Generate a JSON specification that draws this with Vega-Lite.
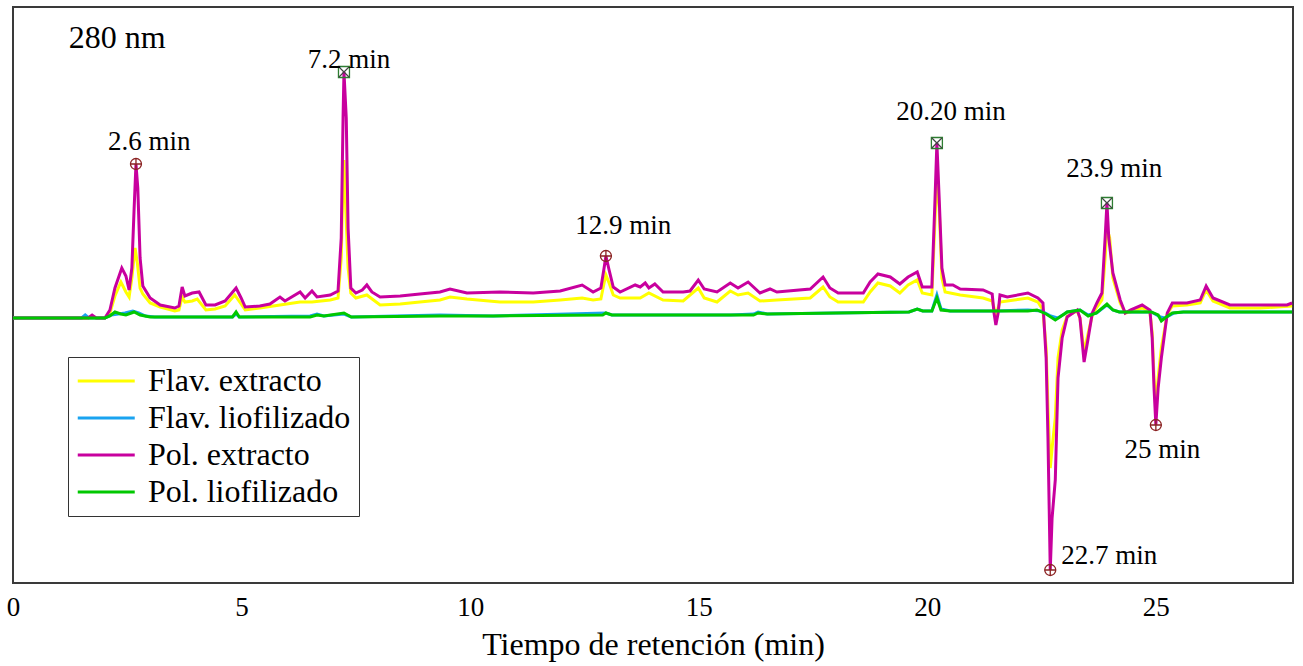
{
  "$schema": "https://vega.github.io/schema/vega-lite/v6.json",
  "width": 1280,
  "height": 576,
  "autosize": {"type": "none"},
  "padding": {"left": 13, "top": 7, "right": 10, "bottom": 83},
  "background": "white",
  "config": {
    "view": {"stroke": "#3a3a3a", "strokeWidth": 2},
    "font": "Liberation Serif"
  },
  "datasets": {
    "traces": [
      {"s":"Flav. extracto","t":0,"v":0},{"s":"Flav. extracto","t":2.01,"v":0},{"s":"Flav. extracto","t":2.12,"v":5},{"s":"Flav. extracto","t":2.23,"v":22},{"s":"Flav. extracto","t":2.36,"v":36},{"s":"Flav. extracto","t":2.47,"v":26},{"s":"Flav. extracto","t":2.54,"v":21},{"s":"Flav. extracto","t":2.6,"v":40},{"s":"Flav. extracto","t":2.67,"v":70},{"s":"Flav. extracto","t":2.72,"v":55},{"s":"Flav. extracto","t":2.78,"v":30},{"s":"Flav. extracto","t":2.84,"v":24},{"s":"Flav. extracto","t":3.0,"v":15},{"s":"Flav. extracto","t":3.22,"v":11},{"s":"Flav. extracto","t":3.54,"v":7},{"s":"Flav. extracto","t":3.63,"v":8},{"s":"Flav. extracto","t":3.7,"v":21},{"s":"Flav. extracto","t":3.76,"v":16},{"s":"Flav. extracto","t":3.92,"v":17},{"s":"Flav. extracto","t":4.03,"v":19},{"s":"Flav. extracto","t":4.22,"v":8},{"s":"Flav. extracto","t":4.42,"v":9},{"s":"Flav. extracto","t":4.64,"v":12},{"s":"Flav. extracto","t":4.85,"v":23},{"s":"Flav. extracto","t":4.99,"v":14},{"s":"Flav. extracto","t":5.08,"v":8},{"s":"Flav. extracto","t":5.4,"v":10},{"s":"Flav. extracto","t":5.84,"v":13},{"s":"Flav. extracto","t":6.28,"v":16},{"s":"Flav. extracto","t":6.54,"v":16},{"s":"Flav. extracto","t":6.94,"v":18},{"s":"Flav. extracto","t":7.11,"v":20},{"s":"Flav. extracto","t":7.18,"v":60},{"s":"Flav. extracto","t":7.22,"v":140},{"s":"Flav. extracto","t":7.24,"v":158},{"s":"Flav. extracto","t":7.27,"v":120},{"s":"Flav. extracto","t":7.33,"v":50},{"s":"Flav. extracto","t":7.39,"v":25},{"s":"Flav. extracto","t":7.5,"v":20},{"s":"Flav. extracto","t":7.74,"v":23},{"s":"Flav. extracto","t":8.03,"v":13},{"s":"Flav. extracto","t":8.47,"v":14},{"s":"Flav. extracto","t":8.9,"v":16},{"s":"Flav. extracto","t":9.34,"v":18},{"s":"Flav. extracto","t":9.56,"v":21},{"s":"Flav. extracto","t":9.93,"v":19},{"s":"Flav. extracto","t":10.65,"v":16},{"s":"Flav. extracto","t":11.38,"v":16},{"s":"Flav. extracto","t":11.97,"v":18},{"s":"Flav. extracto","t":12.45,"v":20},{"s":"Flav. extracto","t":12.69,"v":18},{"s":"Flav. extracto","t":12.86,"v":19},{"s":"Flav. extracto","t":12.93,"v":35},{"s":"Flav. extracto","t":12.97,"v":43},{"s":"Flav. extracto","t":13.04,"v":35},{"s":"Flav. extracto","t":13.13,"v":23},{"s":"Flav. extracto","t":13.28,"v":20},{"s":"Flav. extracto","t":13.72,"v":20},{"s":"Flav. extracto","t":13.91,"v":25},{"s":"Flav. extracto","t":14.22,"v":18},{"s":"Flav. extracto","t":14.66,"v":17},{"s":"Flav. extracto","t":14.99,"v":30},{"s":"Flav. extracto","t":15.12,"v":20},{"s":"Flav. extracto","t":15.4,"v":16},{"s":"Flav. extracto","t":15.69,"v":27},{"s":"Flav. extracto","t":15.86,"v":23},{"s":"Flav. extracto","t":16.08,"v":25},{"s":"Flav. extracto","t":16.34,"v":17},{"s":"Flav. extracto","t":16.71,"v":18},{"s":"Flav. extracto","t":17.44,"v":20},{"s":"Flav. extracto","t":17.72,"v":31},{"s":"Flav. extracto","t":17.87,"v":21},{"s":"Flav. extracto","t":18.05,"v":16},{"s":"Flav. extracto","t":18.6,"v":16},{"s":"Flav. extracto","t":18.75,"v":26},{"s":"Flav. extracto","t":18.92,"v":35},{"s":"Flav. extracto","t":19.19,"v":32},{"s":"Flav. extracto","t":19.4,"v":25},{"s":"Flav. extracto","t":19.58,"v":33},{"s":"Flav. extracto","t":19.78,"v":38},{"s":"Flav. extracto","t":19.89,"v":25},{"s":"Flav. extracto","t":20.1,"v":23},{"s":"Flav. extracto","t":20.17,"v":100},{"s":"Flav. extracto","t":20.21,"v":140},{"s":"Flav. extracto","t":20.26,"v":110},{"s":"Flav. extracto","t":20.32,"v":40},{"s":"Flav. extracto","t":20.39,"v":26},{"s":"Flav. extracto","t":20.72,"v":23},{"s":"Flav. extracto","t":21.22,"v":20},{"s":"Flav. extracto","t":21.42,"v":17},{"s":"Flav. extracto","t":21.5,"v":3},{"s":"Flav. extracto","t":21.59,"v":16},{"s":"Flav. extracto","t":21.75,"v":17},{"s":"Flav. extracto","t":22.2,"v":20},{"s":"Flav. extracto","t":22.42,"v":16},{"s":"Flav. extracto","t":22.53,"v":8},{"s":"Flav. extracto","t":22.6,"v":-30},{"s":"Flav. extracto","t":22.64,"v":-90},{"s":"Flav. extracto","t":22.69,"v":-150},{"s":"Flav. extracto","t":22.73,"v":-130},{"s":"Flav. extracto","t":22.8,"v":-100},{"s":"Flav. extracto","t":22.86,"v":-40},{"s":"Flav. extracto","t":22.95,"v":-12},{"s":"Flav. extracto","t":23.06,"v":2},{"s":"Flav. extracto","t":23.28,"v":7},{"s":"Flav. extracto","t":23.34,"v":0},{"s":"Flav. extracto","t":23.43,"v":-34},{"s":"Flav. extracto","t":23.52,"v":-15},{"s":"Flav. extracto","t":23.61,"v":3},{"s":"Flav. extracto","t":23.71,"v":11},{"s":"Flav. extracto","t":23.82,"v":18},{"s":"Flav. extracto","t":23.89,"v":60},{"s":"Flav. extracto","t":23.93,"v":90},{"s":"Flav. extracto","t":23.99,"v":80},{"s":"Flav. extracto","t":24.06,"v":40},{"s":"Flav. extracto","t":24.22,"v":15},{"s":"Flav. extracto","t":24.33,"v":5},{"s":"Flav. extracto","t":24.44,"v":6},{"s":"Flav. extracto","t":24.7,"v":10},{"s":"Flav. extracto","t":24.87,"v":6},{"s":"Flav. extracto","t":24.92,"v":-15},{"s":"Flav. extracto","t":24.96,"v":-60},{"s":"Flav. extracto","t":25.0,"v":-88},{"s":"Flav. extracto","t":25.05,"v":-60},{"s":"Flav. extracto","t":25.12,"v":-30},{"s":"Flav. extracto","t":25.25,"v":4},{"s":"Flav. extracto","t":25.36,"v":12},{"s":"Flav. extracto","t":25.68,"v":13},{"s":"Flav. extracto","t":25.97,"v":15},{"s":"Flav. extracto","t":26.1,"v":28},{"s":"Flav. extracto","t":26.25,"v":17},{"s":"Flav. extracto","t":26.62,"v":10},{"s":"Flav. extracto","t":27.28,"v":10},{"s":"Flav. extracto","t":27.98,"v":12},

      {"s":"Flav. liofilizado","t":0,"v":0},{"s":"Flav. liofilizado","t":1.5,"v":0},{"s":"Flav. liofilizado","t":1.58,"v":3},{"s":"Flav. liofilizado","t":1.66,"v":0},{"s":"Flav. liofilizado","t":2.01,"v":0},{"s":"Flav. liofilizado","t":2.15,"v":3},{"s":"Flav. liofilizado","t":2.3,"v":4},{"s":"Flav. liofilizado","t":2.45,"v":5},{"s":"Flav. liofilizado","t":2.62,"v":7},{"s":"Flav. liofilizado","t":2.75,"v":5},{"s":"Flav. liofilizado","t":2.9,"v":2},{"s":"Flav. liofilizado","t":3.1,"v":1},{"s":"Flav. liofilizado","t":4.8,"v":1},{"s":"Flav. liofilizado","t":4.88,"v":4},{"s":"Flav. liofilizado","t":4.95,"v":1},{"s":"Flav. liofilizado","t":6.5,"v":2},{"s":"Flav. liofilizado","t":6.65,"v":4},{"s":"Flav. liofilizado","t":6.8,"v":2},{"s":"Flav. liofilizado","t":7.24,"v":4},{"s":"Flav. liofilizado","t":7.4,"v":1},{"s":"Flav. liofilizado","t":9.34,"v":3},{"s":"Flav. liofilizado","t":10.5,"v":2},{"s":"Flav. liofilizado","t":12.97,"v":5},{"s":"Flav. liofilizado","t":13.1,"v":3},{"s":"Flav. liofilizado","t":15.7,"v":3},{"s":"Flav. liofilizado","t":16.2,"v":4},{"s":"Flav. liofilizado","t":16.3,"v":6},{"s":"Flav. liofilizado","t":16.5,"v":4},{"s":"Flav. liofilizado","t":18.0,"v":5},{"s":"Flav. liofilizado","t":19.6,"v":6},{"s":"Flav. liofilizado","t":19.78,"v":9},{"s":"Flav. liofilizado","t":19.9,"v":7},{"s":"Flav. liofilizado","t":20.1,"v":7},{"s":"Flav. liofilizado","t":20.21,"v":23},{"s":"Flav. liofilizado","t":20.3,"v":9},{"s":"Flav. liofilizado","t":20.5,"v":7},{"s":"Flav. liofilizado","t":21.5,"v":7},{"s":"Flav. liofilizado","t":22.2,"v":8},{"s":"Flav. liofilizado","t":22.5,"v":7},{"s":"Flav. liofilizado","t":22.7,"v":2},{"s":"Flav. liofilizado","t":22.85,"v":0},{"s":"Flav. liofilizado","t":23.0,"v":4},{"s":"Flav. liofilizado","t":23.06,"v":6},{"s":"Flav. liofilizado","t":23.34,"v":8},{"s":"Flav. liofilizado","t":23.52,"v":3},{"s":"Flav. liofilizado","t":23.7,"v":5},{"s":"Flav. liofilizado","t":23.93,"v":13},{"s":"Flav. liofilizado","t":24.06,"v":8},{"s":"Flav. liofilizado","t":24.2,"v":6},{"s":"Flav. liofilizado","t":24.9,"v":6},{"s":"Flav. liofilizado","t":25.1,"v":1},{"s":"Flav. liofilizado","t":25.2,"v":0},{"s":"Flav. liofilizado","t":25.4,"v":5},{"s":"Flav. liofilizado","t":25.6,"v":6},{"s":"Flav. liofilizado","t":27.98,"v":6},

      {"s":"Pol. extracto","t":0,"v":0},{"s":"Pol. extracto","t":1.64,"v":0},{"s":"Pol. extracto","t":1.73,"v":3},{"s":"Pol. extracto","t":1.82,"v":0},{"s":"Pol. extracto","t":2.01,"v":0},{"s":"Pol. extracto","t":2.12,"v":8},{"s":"Pol. extracto","t":2.23,"v":30},{"s":"Pol. extracto","t":2.38,"v":50},{"s":"Pol. extracto","t":2.47,"v":42},{"s":"Pol. extracto","t":2.54,"v":28},{"s":"Pol. extracto","t":2.6,"v":50},{"s":"Pol. extracto","t":2.65,"v":110},{"s":"Pol. extracto","t":2.69,"v":154},{"s":"Pol. extracto","t":2.73,"v":130},{"s":"Pol. extracto","t":2.78,"v":60},{"s":"Pol. extracto","t":2.84,"v":32},{"s":"Pol. extracto","t":3.0,"v":20},{"s":"Pol. extracto","t":3.22,"v":13},{"s":"Pol. extracto","t":3.54,"v":10},{"s":"Pol. extracto","t":3.63,"v":12},{"s":"Pol. extracto","t":3.7,"v":31},{"s":"Pol. extracto","t":3.76,"v":22},{"s":"Pol. extracto","t":3.92,"v":25},{"s":"Pol. extracto","t":4.07,"v":26},{"s":"Pol. extracto","t":4.22,"v":13},{"s":"Pol. extracto","t":4.42,"v":13},{"s":"Pol. extracto","t":4.64,"v":17},{"s":"Pol. extracto","t":4.88,"v":30},{"s":"Pol. extracto","t":4.99,"v":20},{"s":"Pol. extracto","t":5.08,"v":11},{"s":"Pol. extracto","t":5.4,"v":12},{"s":"Pol. extracto","t":5.62,"v":14},{"s":"Pol. extracto","t":5.84,"v":21},{"s":"Pol. extracto","t":5.95,"v":17},{"s":"Pol. extracto","t":6.28,"v":26},{"s":"Pol. extracto","t":6.39,"v":20},{"s":"Pol. extracto","t":6.54,"v":27},{"s":"Pol. extracto","t":6.65,"v":21},{"s":"Pol. extracto","t":6.94,"v":23},{"s":"Pol. extracto","t":7.11,"v":27},{"s":"Pol. extracto","t":7.18,"v":80},{"s":"Pol. extracto","t":7.22,"v":200},{"s":"Pol. extracto","t":7.24,"v":246},{"s":"Pol. extracto","t":7.29,"v":200},{"s":"Pol. extracto","t":7.33,"v":90},{"s":"Pol. extracto","t":7.39,"v":30},{"s":"Pol. extracto","t":7.5,"v":25},{"s":"Pol. extracto","t":7.64,"v":28},{"s":"Pol. extracto","t":7.74,"v":33},{"s":"Pol. extracto","t":7.85,"v":26},{"s":"Pol. extracto","t":8.03,"v":21},{"s":"Pol. extracto","t":8.47,"v":22},{"s":"Pol. extracto","t":8.9,"v":24},{"s":"Pol. extracto","t":9.34,"v":26},{"s":"Pol. extracto","t":9.56,"v":29},{"s":"Pol. extracto","t":9.93,"v":25},{"s":"Pol. extracto","t":10.65,"v":26},{"s":"Pol. extracto","t":11.38,"v":25},{"s":"Pol. extracto","t":11.97,"v":27},{"s":"Pol. extracto","t":12.45,"v":33},{"s":"Pol. extracto","t":12.69,"v":26},{"s":"Pol. extracto","t":12.86,"v":30},{"s":"Pol. extracto","t":12.93,"v":50},{"s":"Pol. extracto","t":12.97,"v":62},{"s":"Pol. extracto","t":13.04,"v":48},{"s":"Pol. extracto","t":13.13,"v":31},{"s":"Pol. extracto","t":13.28,"v":26},{"s":"Pol. extracto","t":13.61,"v":33},{"s":"Pol. extracto","t":13.72,"v":31},{"s":"Pol. extracto","t":13.83,"v":35},{"s":"Pol. extracto","t":13.91,"v":30},{"s":"Pol. extracto","t":14.04,"v":34},{"s":"Pol. extracto","t":14.22,"v":26},{"s":"Pol. extracto","t":14.66,"v":26},{"s":"Pol. extracto","t":14.81,"v":27},{"s":"Pol. extracto","t":14.99,"v":38},{"s":"Pol. extracto","t":15.12,"v":29},{"s":"Pol. extracto","t":15.4,"v":26},{"s":"Pol. extracto","t":15.69,"v":35},{"s":"Pol. extracto","t":15.86,"v":30},{"s":"Pol. extracto","t":16.08,"v":36},{"s":"Pol. extracto","t":16.34,"v":25},{"s":"Pol. extracto","t":16.56,"v":29},{"s":"Pol. extracto","t":16.71,"v":26},{"s":"Pol. extracto","t":17.44,"v":29},{"s":"Pol. extracto","t":17.72,"v":41},{"s":"Pol. extracto","t":17.87,"v":30},{"s":"Pol. extracto","t":18.05,"v":25},{"s":"Pol. extracto","t":18.6,"v":25},{"s":"Pol. extracto","t":18.75,"v":36},{"s":"Pol. extracto","t":18.92,"v":44},{"s":"Pol. extracto","t":19.19,"v":41},{"s":"Pol. extracto","t":19.4,"v":34},{"s":"Pol. extracto","t":19.58,"v":41},{"s":"Pol. extracto","t":19.78,"v":46},{"s":"Pol. extracto","t":19.89,"v":31},{"s":"Pol. extracto","t":20.1,"v":31},{"s":"Pol. extracto","t":20.17,"v":120},{"s":"Pol. extracto","t":20.21,"v":175},{"s":"Pol. extracto","t":20.26,"v":120},{"s":"Pol. extracto","t":20.32,"v":50},{"s":"Pol. extracto","t":20.39,"v":33},{"s":"Pol. extracto","t":20.56,"v":33},{"s":"Pol. extracto","t":20.72,"v":29},{"s":"Pol. extracto","t":21.22,"v":28},{"s":"Pol. extracto","t":21.42,"v":24},{"s":"Pol. extracto","t":21.46,"v":5},{"s":"Pol. extracto","t":21.5,"v":-7},{"s":"Pol. extracto","t":21.55,"v":5},{"s":"Pol. extracto","t":21.59,"v":23},{"s":"Pol. extracto","t":21.75,"v":21},{"s":"Pol. extracto","t":22.2,"v":25},{"s":"Pol. extracto","t":22.42,"v":20},{"s":"Pol. extracto","t":22.53,"v":15},{"s":"Pol. extracto","t":22.6,"v":-40},{"s":"Pol. extracto","t":22.64,"v":-120},{"s":"Pol. extracto","t":22.69,"v":-252},{"s":"Pol. extracto","t":22.73,"v":-200},{"s":"Pol. extracto","t":22.8,"v":-162},{"s":"Pol. extracto","t":22.86,"v":-60},{"s":"Pol. extracto","t":22.95,"v":-20},{"s":"Pol. extracto","t":23.06,"v":1},{"s":"Pol. extracto","t":23.28,"v":8},{"s":"Pol. extracto","t":23.34,"v":0},{"s":"Pol. extracto","t":23.43,"v":-44},{"s":"Pol. extracto","t":23.52,"v":-20},{"s":"Pol. extracto","t":23.61,"v":5},{"s":"Pol. extracto","t":23.71,"v":15},{"s":"Pol. extracto","t":23.82,"v":25},{"s":"Pol. extracto","t":23.89,"v":80},{"s":"Pol. extracto","t":23.93,"v":115},{"s":"Pol. extracto","t":23.97,"v":80},{"s":"Pol. extracto","t":24.06,"v":45},{"s":"Pol. extracto","t":24.22,"v":18},{"s":"Pol. extracto","t":24.33,"v":5},{"s":"Pol. extracto","t":24.44,"v":8},{"s":"Pol. extracto","t":24.7,"v":13},{"s":"Pol. extracto","t":24.87,"v":8},{"s":"Pol. extracto","t":24.92,"v":-20},{"s":"Pol. extracto","t":24.96,"v":-70},{"s":"Pol. extracto","t":25.0,"v":-107},{"s":"Pol. extracto","t":25.05,"v":-70},{"s":"Pol. extracto","t":25.12,"v":-40},{"s":"Pol. extracto","t":25.25,"v":5},{"s":"Pol. extracto","t":25.36,"v":15},{"s":"Pol. extracto","t":25.68,"v":15},{"s":"Pol. extracto","t":25.97,"v":18},{"s":"Pol. extracto","t":26.1,"v":32},{"s":"Pol. extracto","t":26.25,"v":20},{"s":"Pol. extracto","t":26.62,"v":13},{"s":"Pol. extracto","t":27.28,"v":13},{"s":"Pol. extracto","t":27.87,"v":13},{"s":"Pol. extracto","t":27.98,"v":15},

      {"s":"Pol. liofilizado","t":0,"v":0},{"s":"Pol. liofilizado","t":2.01,"v":0},{"s":"Pol. liofilizado","t":2.12,"v":2},{"s":"Pol. liofilizado","t":2.23,"v":6},{"s":"Pol. liofilizado","t":2.36,"v":4},{"s":"Pol. liofilizado","t":2.47,"v":3},{"s":"Pol. liofilizado","t":2.65,"v":6},{"s":"Pol. liofilizado","t":2.78,"v":3},{"s":"Pol. liofilizado","t":3.0,"v":1},{"s":"Pol. liofilizado","t":3.54,"v":1},{"s":"Pol. liofilizado","t":4.8,"v":1},{"s":"Pol. liofilizado","t":4.88,"v":6},{"s":"Pol. liofilizado","t":4.95,"v":1},{"s":"Pol. liofilizado","t":6.5,"v":1},{"s":"Pol. liofilizado","t":6.65,"v":3},{"s":"Pol. liofilizado","t":6.8,"v":2},{"s":"Pol. liofilizado","t":7.24,"v":5},{"s":"Pol. liofilizado","t":7.4,"v":1},{"s":"Pol. liofilizado","t":9.34,"v":2},{"s":"Pol. liofilizado","t":10.5,"v":2},{"s":"Pol. liofilizado","t":12.9,"v":3},{"s":"Pol. liofilizado","t":12.97,"v":5},{"s":"Pol. liofilizado","t":13.1,"v":3},{"s":"Pol. liofilizado","t":15.7,"v":3},{"s":"Pol. liofilizado","t":16.2,"v":3},{"s":"Pol. liofilizado","t":16.3,"v":5},{"s":"Pol. liofilizado","t":16.5,"v":4},{"s":"Pol. liofilizado","t":18.0,"v":5},{"s":"Pol. liofilizado","t":19.6,"v":6},{"s":"Pol. liofilizado","t":19.78,"v":9},{"s":"Pol. liofilizado","t":19.9,"v":7},{"s":"Pol. liofilizado","t":20.1,"v":7},{"s":"Pol. liofilizado","t":20.21,"v":20},{"s":"Pol. liofilizado","t":20.3,"v":8},{"s":"Pol. liofilizado","t":20.5,"v":7},{"s":"Pol. liofilizado","t":21.5,"v":7},{"s":"Pol. liofilizado","t":22.2,"v":7},{"s":"Pol. liofilizado","t":22.4,"v":8},{"s":"Pol. liofilizado","t":22.6,"v":4},{"s":"Pol. liofilizado","t":22.8,"v":-2},{"s":"Pol. liofilizado","t":22.9,"v":1},{"s":"Pol. liofilizado","t":23.06,"v":6},{"s":"Pol. liofilizado","t":23.34,"v":8},{"s":"Pol. liofilizado","t":23.52,"v":2},{"s":"Pol. liofilizado","t":23.7,"v":5},{"s":"Pol. liofilizado","t":23.93,"v":14},{"s":"Pol. liofilizado","t":24.06,"v":8},{"s":"Pol. liofilizado","t":24.2,"v":6},{"s":"Pol. liofilizado","t":24.9,"v":6},{"s":"Pol. liofilizado","t":25.05,"v":3},{"s":"Pol. liofilizado","t":25.12,"v":-3},{"s":"Pol. liofilizado","t":25.2,"v":0},{"s":"Pol. liofilizado","t":25.36,"v":5},{"s":"Pol. liofilizado","t":25.6,"v":6},{"s":"Pol. liofilizado","t":27.98,"v":6}
    ],
    "peaks": [
      {"t":2.69,"v":154,"kind":"c","label":"2.6 min","lt":2.98,"lv":176},
      {"t":7.24,"v":246,"kind":"s","label":"7.2 min","lt":7.35,"lv":258},
      {"t":12.97,"v":62,"kind":"c","label":"12.9 min","lt":13.35,"lv":92},
      {"t":20.21,"v":175,"kind":"s","label":"20.20 min","lt":20.52,"lv":206},
      {"t":22.69,"v":-252,"kind":"c","label":"22.7 min","lt":23.98,"lv":-238},
      {"t":23.93,"v":115,"kind":"s","label":"23.9 min","lt":24.09,"lv":149},
      {"t":25.0,"v":-107,"kind":"c","label":"25 min","lt":25.14,"lv":-132}
    ],
    "note": [{"t":2.28,"v":280,"label":"280 nm"}]
  },
  "layer": [
    {
      "data": {"name": "traces"},
      "mark": {"type": "line", "strokeWidth": 3, "clip": true, "interpolate": "linear"},
      "encoding": {
        "x": {
          "field": "t", "type": "quantitative",
          "scale": {"domain": [0, 28], "nice": false, "zero": false},
          "axis": {
            "values": [0, 5, 10, 15, 20, 25],
            "ticks": false, "grid": false, "domain": false,
            "labelFont": "Liberation Serif", "labelFontSize": 27, "labelColor": "#000",
            "labelPadding": 11, "labelFlush": false,
            "title": "Tiempo de retención (min)",
            "titleFont": "Liberation Serif", "titleFontSize": 32, "titleFontWeight": "normal",
            "titleColor": "#000", "titlePadding": 9
          }
        },
        "y": {
          "field": "v", "type": "quantitative",
          "scale": {"domain": [-265, 311], "nice": false, "zero": false},
          "axis": null
        },
        "color": {
          "field": "s", "type": "nominal",
          "scale": {
            "domain": ["Flav. extracto", "Flav. liofilizado", "Pol. extracto", "Pol. liofilizado"],
            "range": ["#FFFF00", "#1AA3F0", "#C8009E", "#00C800"]
          },
          "legend": {
            "title": null, "orient": "none", "legendX": 55, "legendY": 350,
            "strokeColor": "#333", "fillColor": "white", "padding": 8,
            "symbolType": "M-1,0L3,0", "symbolSize": 812, "symbolStrokeWidth": 3,
            "symbolFillColor": "transparent",
            "labelFont": "Liberation Serif", "labelFontSize": 32, "labelColor": "#000",
            "labelOffset": 40, "rowPadding": 5, "labelLimit": 400
          }
        }
      }
    },
    {
      "data": {"name": "peaks"},
      "transform": [{"filter": "datum.kind === 'c'"}],
      "mark": {"type": "point", "shape": "circle", "filled": false, "stroke": "#8B2323", "strokeWidth": 1.3, "size": 121, "opacity": 1},
      "encoding": {"x": {"field": "t", "type": "quantitative"}, "y": {"field": "v", "type": "quantitative"}}
    },
    {
      "data": {"name": "peaks"},
      "transform": [{"filter": "datum.kind === 'c'"}],
      "mark": {"type": "point", "shape": "M-1,0L1,0M0,-1L0,1", "filled": false, "stroke": "#8B2323", "strokeWidth": 1.3, "size": 121, "opacity": 1},
      "encoding": {"x": {"field": "t", "type": "quantitative"}, "y": {"field": "v", "type": "quantitative"}}
    },
    {
      "data": {"name": "peaks"},
      "transform": [{"filter": "datum.kind === 's'"}],
      "mark": {"type": "point", "shape": "square", "filled": false, "stroke": "#2E7D32", "strokeWidth": 1.3, "size": 121, "opacity": 1},
      "encoding": {"x": {"field": "t", "type": "quantitative"}, "y": {"field": "v", "type": "quantitative"}}
    },
    {
      "data": {"name": "peaks"},
      "transform": [{"filter": "datum.kind === 's'"}],
      "mark": {"type": "point", "shape": "M-1,-1L1,1M-1,1L1,-1", "filled": false, "stroke": "#444", "strokeWidth": 1.2, "size": 100, "opacity": 1},
      "encoding": {"x": {"field": "t", "type": "quantitative"}, "y": {"field": "v", "type": "quantitative"}}
    },
    {
      "data": {"name": "peaks"},
      "mark": {"type": "text", "font": "Liberation Serif", "fontSize": 27, "color": "#000", "align": "center", "baseline": "middle"},
      "encoding": {"x": {"field": "lt", "type": "quantitative"}, "y": {"field": "lv", "type": "quantitative"}, "text": {"field": "label"}}
    },
    {
      "data": {"name": "note"},
      "mark": {"type": "text", "font": "Liberation Serif", "fontSize": 32, "color": "#000", "align": "center", "baseline": "middle"},
      "encoding": {"x": {"field": "t", "type": "quantitative"}, "y": {"field": "v", "type": "quantitative"}, "text": {"field": "label"}}
    }
  ]
}
